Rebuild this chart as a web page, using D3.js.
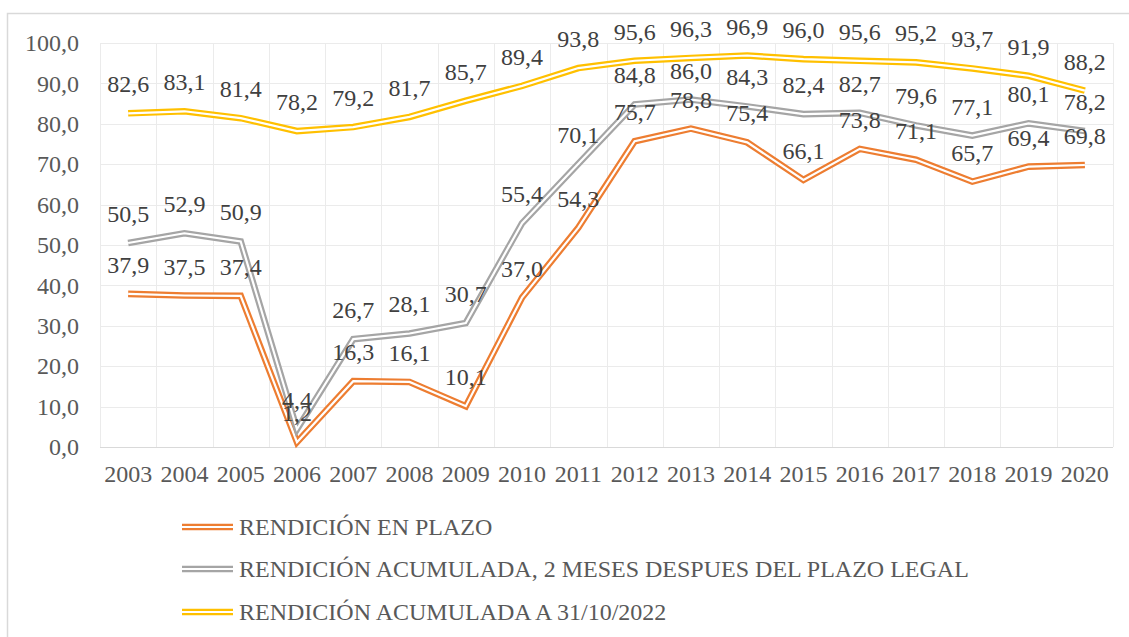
<!DOCTYPE html>
<html>
<head>
<meta charset="utf-8">
<style>
  body { margin: 0; background: #fff; }
  text { font-family: "Liberation Serif", "Times New Roman", serif; }
</style>
</head>
<body>
<svg id="chart" width="1129" height="637"></svg>

<script src="https://d3js.org/d3.v7.min.js"></script>
<script>
  // data
  var years = ["2003","2004","2005","2006","2007","2008","2009","2010","2011","2012","2013","2014","2015","2016","2017","2018","2019","2020"];
  var enPlazo = [37.9,37.5,37.4,1.2,16.3,16.1,10.1,37.0,54.3,75.7,78.8,75.4,66.1,73.8,71.1,65.7,69.4,69.8];
  var dosMeses = [50.5,52.9,50.9,4.4,26.7,28.1,30.7,55.4,70.1,84.8,86.0,84.3,82.4,82.7,79.6,77.1,80.1,78.2];
  var a2022 = [82.6,83.1,81.4,78.2,79.2,81.7,85.7,89.4,93.8,95.6,96.3,96.9,96.0,95.6,95.2,93.7,91.9,88.2];
  var yTicks = [0,10,20,30,40,50,60,70,80,90,100];
  var seriesNames = ["RENDICIÓN EN PLAZO", "RENDICIÓN ACUMULADA, 2 MESES DESPUES DEL PLAZO LEGAL", "RENDICIÓN ACUMULADA A 31/10/2022"];

  var series = [
    { name: seriesNames[0], values: enPlazo, color: "#ED7D31" },
    { name: seriesNames[1], values: dosMeses, color: "#A5A5A5" },
    { name: seriesNames[2], values: a2022, color: "#FFC000" }
  ];

  var svg = d3.select("#chart");
  var fmt = function (v) { return d3.format(".1f")(v).replace(".", ","); };
  var fontSize = "24px";
  var outerW = 6.6, innerW = 2.2;   // compound "double" line

  // outer frame (cut by the picture edge at right and bottom)
  svg.append("rect")
    .attr("x", 7.5).attr("y", 13.5).attr("width", 1140).attr("height", 640)
    .attr("fill", "none").attr("stroke", "#d9d9d9").attr("stroke-width", 1.5);

  var plotLeft = 100, plotRight = 1113, plotTop = 43, plotBottom = 447;

  var x = d3.scaleBand().domain(years).range([plotLeft, plotRight]);
  var y = d3.scaleLinear().domain([0, 100]).range([plotBottom, plotTop]);

  // horizontal grid
  svg.append("g")
    .selectAll("line")
    .data(yTicks)
    .enter()
    .append("line")
    .attr("x1", plotLeft).attr("x2", plotRight)
    .attr("y1", function (d) { return Math.round(y(d)) + 0.5; })
    .attr("y2", function (d) { return Math.round(y(d)) + 0.5; })
    .attr("stroke", function (d) { return d === 0 ? "#d9d9d9" : "#ebebeb"; })
    .attr("stroke-width", 1);

  // vertical grid between categories
  var vEdges = years.map(function (d) { return x(d); }).concat([plotRight]);
  svg.append("g")
    .selectAll("line")
    .data(vEdges)
    .enter()
    .append("line")
    .attr("x1", function (d) { return Math.round(d) + 0.5; })
    .attr("x2", function (d) { return Math.round(d) + 0.5; })
    .attr("y1", plotTop).attr("y2", plotBottom)
    .attr("stroke", "#ebebeb");

  // y axis labels
  var yAxis = svg.append("g")
    .attr("transform", "translate(" + (plotLeft - 21) + ",0)")
    .call(d3.axisLeft(y).tickValues(yTicks).tickFormat(fmt).tickSize(0).tickPadding(0));
  yAxis.select(".domain").remove();
  yAxis.selectAll("text")
    .attr("fill", "#595959")
    .style("font-size", fontSize)
    .style("font-family", "'Liberation Serif', 'Times New Roman', serif");

  // x axis labels
  var xAxis = svg.append("g")
    .attr("transform", "translate(0," + plotBottom + ")")
    .call(d3.axisBottom(x).tickSize(0).tickPadding(18));
  xAxis.select(".domain").remove();
  xAxis.selectAll("text")
    .attr("fill", "#595959")
    .style("font-size", fontSize)
    .style("font-family", "'Liberation Serif', 'Times New Roman', serif");

  var cx = function (i) { return x(years[i]) + x.bandwidth() / 2; };
  var line = d3.line()
    .x(function (d, i) { return cx(i); })
    .y(function (d) { return y(d); });

  // double lines: wide coloured stroke with a thin white core
  series.forEach(function (s) {
    var g = svg.append("g");
    g.append("path")
      .attr("d", line(s.values))
      .attr("fill", "none")
      .attr("stroke", s.color)
      .attr("stroke-width", outerW);
    g.append("path")
      .attr("d", line(s.values))
      .attr("fill", "none")
      .attr("stroke", "#fff")
      .attr("stroke-width", innerW);
  });

  // data labels above points
  series.forEach(function (s) {
    svg.append("g")
      .selectAll("text")
      .data(s.values)
      .enter()
      .append("text")
      .attr("x", function (d, i) { return cx(i); })
      .attr("y", function (d) { return y(d) - 21; })
      .attr("text-anchor", "middle")
      .attr("fill", "#404040")
      .style("font-size", fontSize)
      .text(fmt);
  });

  // legend
  var legendY = [527, 569, 612];
  var legend = svg.append("g")
    .selectAll("g")
    .data(series)
    .enter()
    .append("g")
    .attr("transform", function (d, i) { return "translate(182," + legendY[i] + ")"; });
  legend.append("line")
    .attr("x1", 0).attr("x2", 51).attr("y1", 0).attr("y2", 0)
    .attr("stroke", function (d) { return d.color; }).attr("stroke-width", outerW);
  legend.append("line")
    .attr("x1", 0).attr("x2", 51).attr("y1", 0).attr("y2", 0)
    .attr("stroke", "#fff").attr("stroke-width", innerW);
  legend.append("text")
    .attr("x", 57).attr("y", 0)
    .attr("dy", "0.35em")
    .attr("fill", "#595959")
    .style("font-size", fontSize)
    .text(function (d) { return d.name; });
</script>
</body>
</html>
